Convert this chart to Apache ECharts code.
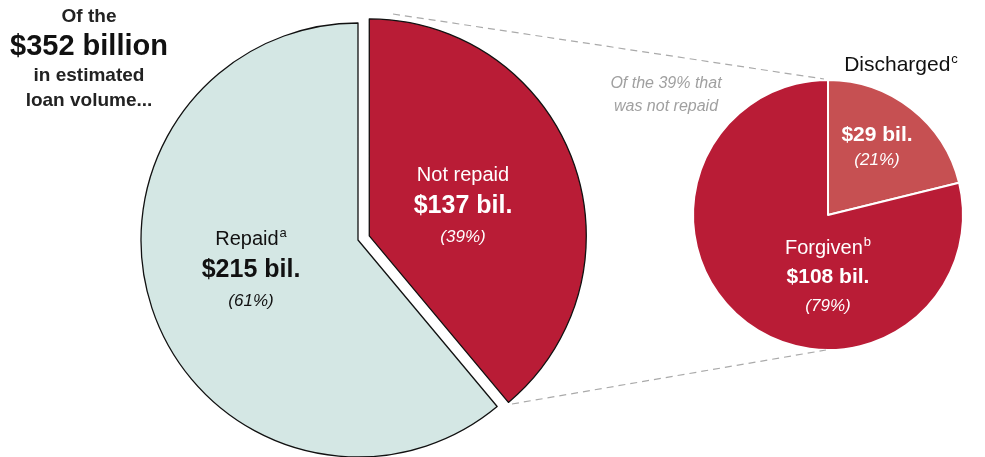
<!DOCTYPE html>
<html><head><meta charset="utf-8">
<script src="https://cdn.jsdelivr.net/npm/echarts@6/dist/echarts.min.js"></script>
<style>html,body{margin:0;padding:0;background:#fff}#c{width:985px;height:457px}</style>
</head><body><div id="c"></div>
<script>
const totalLabel = ['Of the', '$352 billion', 'in estimated', 'loan volume...'];
const bigNames = ['Not repaid', 'Repaid'];
const bigValues = [137, 215];
const bigPct = [39, 61];
const bigSup = ['', 'a'];
const smallNames = ['Discharged', 'Forgiven'];
const smallValues = [29, 108];
const smallPct = [21, 79];
const smallSup = ['c', 'b'];
const subNote = ['Of the 39% that', 'was not repaid'];

const FONT = '"Liberation Sans", Arial, sans-serif';
const chart = echarts.init(document.getElementById('c'), null, {renderer: 'canvas'});

function labelText(name, sup, val, pct) {
  return '{n|' + name + '}' + (sup ? '{s|' + sup + '}' : '') + '\n{v|$' + val + ' bil.}\n{p|(' + pct + '%)}';
}
function rich(color, nSize, vSize, lh) {
  return {
    n: {fontSize: nSize, fill: color, fontFamily: FONT, lineHeight: lh},
    s: {fontSize: 13, fill: color, fontFamily: FONT, padding: [0, 0, 12, 1], lineHeight: lh},
    v: {fontSize: vSize, fontWeight: 'bold', fill: color, fontFamily: FONT, lineHeight: lh + 2},
    p: {fontSize: 17, fontStyle: 'italic', fill: color, fontFamily: FONT, lineHeight: lh}
  };
}

const option = {
  animation: false,
  series: [
    {
      type: 'pie', center: [358, 240], radius: 217, startAngle: 90, clockwise: true,
      selectedMode: 'single', selectedOffset: 12, silent: true,
      label: {show: false}, labelLine: {show: false},
      data: bigNames.map((n, i) => ({
        name: n, value: bigValues[i], selected: i === 0,
        itemStyle: {color: i === 0 ? '#b91c36' : '#d4e7e4', borderColor: '#111', borderWidth: 1.3}
      }))
    },
    {
      type: 'pie', center: [828, 215], radius: 135, startAngle: 90, clockwise: true, silent: true,
      label: {show: false}, labelLine: {show: false},
      data: smallNames.map((n, i) => ({
        name: n, value: smallValues[i],
        itemStyle: {color: i === 0 ? '#c65052' : '#b91c36', borderColor: '#fff', borderWidth: 2}
      }))
    }
  ],
  graphic: {elements: [
    {type: 'line', z: 100, shape: {x1: 393, y1: 14, x2: 824, y2: 79}, style: {stroke: '#aaa', lineWidth: 1.2, lineDash: [7, 5]}},
    {type: 'line', z: 100, shape: {x1: 512, y1: 404, x2: 826, y2: 350}, style: {stroke: '#aaa', lineWidth: 1.2, lineDash: [7, 5]}},
    {type: 'text', z: 100, x: 89, y: 17, style: {text: totalLabel[0], font: 'bold 19px ' + FONT, fill: '#222', align: 'center', verticalAlign: 'middle'}},
    {type: 'text', z: 100, x: 89, y: 47, style: {text: totalLabel[1], font: 'bold 29px ' + FONT, fill: '#111', align: 'center', verticalAlign: 'middle'}},
    {type: 'text', z: 100, x: 89, y: 76, style: {text: totalLabel[2], font: 'bold 19px ' + FONT, fill: '#222', align: 'center', verticalAlign: 'middle'}},
    {type: 'text', z: 100, x: 89, y: 101, style: {text: totalLabel[3], font: 'bold 19px ' + FONT, fill: '#222', align: 'center', verticalAlign: 'middle'}},
    {type: 'text', z: 100, x: 251, y: 270, style: {text: labelText(bigNames[1], bigSup[1], bigValues[1], bigPct[1]), rich: rich('#111', 20, 25, 30), align: 'center', verticalAlign: 'middle'}},
    {type: 'text', z: 100, x: 463, y: 206, style: {text: labelText(bigNames[0], bigSup[0], bigValues[0], bigPct[0]), rich: rich('#fff', 20, 25, 30), align: 'center', verticalAlign: 'middle'}},
    {type: 'text', z: 100, x: 877, y: 147, style: {text: '{v|$' + smallValues[0] + ' bil.}\n{p|(' + smallPct[0] + '%)}', rich: rich('#fff', 20, 21, 24), align: 'center', verticalAlign: 'middle'}},
    {type: 'text', z: 100, x: 828, y: 277, style: {text: labelText(smallNames[1], smallSup[1], smallValues[1], smallPct[1]), rich: rich('#fff', 20, 21, 28), align: 'center', verticalAlign: 'middle'}},
    {type: 'text', z: 100, x: 901, y: 65, style: {text: '{n|' + smallNames[0] + '}{s|' + smallSup[0] + '}', rich: rich('#111', 21, 21, 30), align: 'center', verticalAlign: 'middle'}},
    {type: 'text', z: 100, x: 666, y: 95, style: {text: subNote.join('\n'), font: 'italic 16px ' + FONT, fill: '#a0a0a0', align: 'center', verticalAlign: 'middle', lineHeight: 23}}
  ]}
};
chart.setOption(option);
</script></body></html>
